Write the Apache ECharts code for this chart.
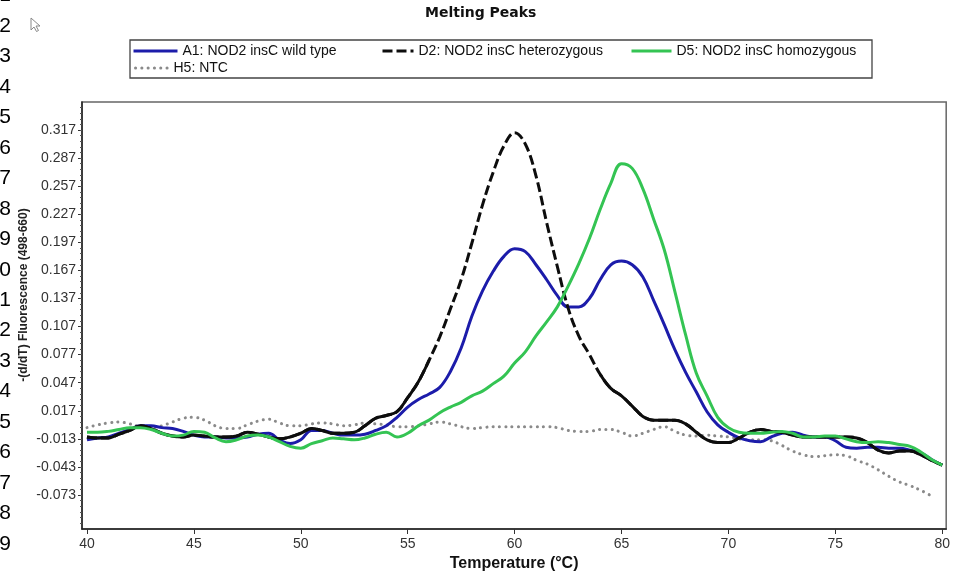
<!DOCTYPE html>
<html><head><meta charset="utf-8">
<script src="https://cdn.jsdelivr.net/npm/echarts@6/dist/echarts.min.js"></script>
<style>html,body{margin:0;padding:0;background:#fff}#c{width:953px;height:577px}</style>
</head><body><div id="c"></div>
<script>
// ---------- data ----------
const temperatures = [40,40.5,41,41.5,42,42.5,43,43.5,44,44.5,45,45.5,46,46.5,47,47.5,48,48.5,49,49.5,
  50,50.5,51,51.5,52,52.5,53,53.5,54,54.5,55,55.5,56,56.5,57,57.5,58,58.5,59,59.5,
  60,60.5,61,61.5,62,62.5,63,63.5,64,64.5,65,65.5,66,66.5,67,67.5,68,68.5,69,69.5,
  70,70.5,71,71.5,72,72.5,73,73.5,74,74.5,75,75.5,76,76.5,77,77.5,78,78.5,79,79.5,80];

const a1WildType = [-0.014,-0.012,-0.011,-0.007,-0.003,0.001,0.001,-0.001,-0.002,-0.005,
  -0.009,-0.011,-0.011,-0.012,-0.012,-0.011,-0.008,-0.007,-0.014,-0.018,
  -0.014,-0.004,-0.004,-0.007,-0.009,-0.009,-0.008,-0.004,0.001,0.010,
  0.021,0.029,0.035,0.042,0.059,0.084,0.118,0.145,0.166,0.182,
  0.190,0.187,0.173,0.157,0.140,0.128,0.128,0.137,0.157,0.173,
  0.177,0.173,0.160,0.135,0.109,0.082,0.058,0.037,0.016,0.002,
  -0.006,-0.012,-0.015,-0.016,-0.011,-0.007,-0.006,-0.009,-0.011,-0.011,
  -0.015,-0.022,-0.023,-0.022,-0.022,-0.023,-0.023,-0.025,-0.028,-0.035,-0.041];

const d2Heterozygous = [-0.011,-0.012,-0.012,-0.008,-0.004,0.001,-0.002,-0.007,-0.010,-0.011,
  -0.009,-0.010,-0.011,-0.011,-0.010,-0.006,-0.008,-0.011,-0.013,-0.011,
  -0.007,-0.002,-0.004,-0.007,-0.007,-0.006,0.001,0.009,0.012,0.016,
  0.031,0.048,0.071,0.096,0.126,0.157,0.196,0.237,0.272,0.300,
  0.314,0.302,0.268,0.218,0.171,0.127,0.097,0.077,0.056,0.041,
  0.033,0.022,0.011,0.007,0.007,0.007,0.003,-0.006,-0.014,-0.017,
  -0.017,-0.012,-0.006,-0.003,-0.005,-0.006,-0.009,-0.011,-0.011,-0.011,
  -0.011,-0.011,-0.012,-0.017,-0.025,-0.028,-0.026,-0.026,-0.030,-0.036,-0.041];

const d5Homozygous = [-0.006,-0.006,-0.005,-0.003,-0.001,-0.001,-0.003,-0.007,-0.010,-0.009,
  -0.005,-0.006,-0.012,-0.016,-0.014,-0.010,-0.009,-0.011,-0.016,-0.021,
  -0.023,-0.018,-0.015,-0.012,-0.013,-0.014,-0.012,-0.008,-0.006,-0.011,
  -0.007,0.001,0.007,0.015,0.021,0.026,0.033,0.038,0.046,0.054,
  0.068,0.080,0.097,0.112,0.128,0.150,0.174,0.201,0.232,0.260,
  0.281,0.276,0.254,0.222,0.189,0.144,0.098,0.057,0.033,0.010,
  -0.001,-0.006,-0.007,-0.007,-0.006,-0.005,-0.007,-0.011,-0.011,-0.010,
  -0.010,-0.013,-0.016,-0.017,-0.016,-0.017,-0.019,-0.021,-0.027,-0.035,-0.041];

const h5NTC = [-0.001,0.002,0.004,0.005,0.003,0.000,-0.001,0.001,0.005,0.009,
  0.010,0.007,0.001,-0.002,-0.002,0.002,0.006,0.008,0.004,0.001,
  0.001,0.003,0.004,0.003,0.001,0.002,0.004,0.003,0.002,0.000,
  0.000,0.001,0.003,0.005,0.003,0.000,-0.002,-0.001,0.000,0.000,
  0.000,0.000,0.000,0.000,-0.001,-0.004,-0.005,-0.005,-0.003,-0.003,
  -0.006,-0.010,-0.007,-0.003,0.000,-0.005,-0.009,-0.010,-0.009,-0.010,
  -0.011,-0.013,-0.014,-0.014,-0.015,-0.020,-0.026,-0.030,-0.032,-0.031,
  -0.030,-0.031,-0.036,-0.040,-0.046,-0.053,-0.059,-0.063,-0.068,-0.074,null];

const seriesNames = ['A1: NOD2 insC wild type','D2: NOD2 insC heterozygous','D5: NOD2 insC homozygous','H5: NTC'];
const xTickValues = [40,45,50,55,60,65,70,75,80];
const yTickValues = [-0.073,-0.043,-0.013,0.017,0.047,0.077,0.107,0.137,0.167,0.197,0.227,0.257,0.287,0.317];
const lineNumbers = [1,2,3,4,5,6,7,8,9,10,11,12,13,14,15,16,17,18,19];

// ---------- build ----------
const pairs = arr => temperatures.map((t,i) => [t, arr[i]]);
// D2 trace looks solid in flat regions in the original (dense noisy segments)
const d2Flat = temperatures.map((t,i) => [t, (t <= 56 || t >= 64) ? d2Heterozygous[i] : null]);

const yMinor = [];
for (let k = -6; k <= 70; k++) {
  const v = +(0.317 - 0.006 * k).toFixed(4);
  if (v > -0.109 && v < 0.347) yMinor.push(v);
}

const FONT = '"Liberation Sans", Arial, sans-serif';
const legendCommon = { orient:'horizontal', padding:0, itemHeight:14, selectedMode:false,
  itemStyle:{ opacity:0 }, lineStyle:{ width:3 },
  textStyle:{ fontFamily:FONT, fontSize:14, color:'#111' } };

const chart = echarts.init(document.getElementById('c'), null, {renderer:'canvas'});
chart.setOption({
  animation:false,
  backgroundColor:'#fff',
  title:{ text:'Melting Peaks', left:425, top:6, padding:0,
    textStyle:{ fontFamily:'"DejaVu Sans", sans-serif', fontWeight:'bold', fontSize:14, color:'#111' } },
  legend:[
    Object.assign({ data:[seriesNames[0]], left:132, top:44, itemWidth:44 }, legendCommon),
    Object.assign({ data:[seriesNames[1]], left:381, top:44, itemWidth:31 }, legendCommon),
    Object.assign({ data:[seriesNames[2]], left:630, top:44, itemWidth:40 }, legendCommon),
    Object.assign({ data:[seriesNames[3]], left:134, top:61, itemWidth:33 }, legendCommon)
  ],
  grid:{ left:82, right:2, top:102, bottom:48, show:true, borderColor:'#666', borderWidth:1.5, containLabel:false },
  xAxis:{ type:'value', min:39.767, max:80.186,
    name:'Temperature (°C)', nameLocation:'middle', nameGap:26,
    nameTextStyle:{ fontFamily:FONT, fontWeight:'bold', fontSize:16, color:'#111' },
    axisLine:{ show:true, onZero:false, lineStyle:{ color:'#222', width:1.5 } },
    axisTick:{ show:true, customValues:xTickValues, length:5, lineStyle:{ color:'#333' } },
    axisLabel:{ customValues:xTickValues, margin:8, fontFamily:FONT, fontSize:14, color:'#333' },
    splitLine:{ show:false } },
  yAxis:[
    { type:'value', min:-0.1093, max:0.3469, position:'left',
      axisLine:{ show:true, onZero:false, lineStyle:{ color:'#222', width:1.5 } },
      axisTick:{ show:true, customValues:yTickValues, length:4, lineStyle:{ color:'#333' } },
      axisLabel:{ customValues:yTickValues, margin:6, fontFamily:FONT, fontSize:14, color:'#333',
        formatter: v => v.toFixed(3) },
      splitLine:{ show:false } },
    { type:'value', min:-0.1093, max:0.3469, position:'left',
      axisLine:{ show:false, onZero:false }, axisLabel:{ show:false }, splitLine:{ show:false },
      axisTick:{ show:true, customValues:yMinor, length:2, lineStyle:{ color:'#555' } } }
  ],
  series:[
    { name:seriesNames[3], type:'line', data:pairs(h5NTC), symbol:'none', smooth:0.4,
      lineStyle:{ color:'#8a8a8a', width:3, type:[0.1,6.2], cap:'round' }, itemStyle:{ color:'#8a8a8a' } },
    { name:seriesNames[0], type:'line', data:pairs(a1WildType), symbol:'none', smooth:0.4,
      lineStyle:{ color:'#1c1caa', width:3 }, itemStyle:{ color:'#1c1caa' } },
    { name:seriesNames[1], type:'line', data:pairs(d2Heterozygous), symbol:'none', smooth:0.4,
      lineStyle:{ color:'#0d0d0d', width:3, type:[10,4] }, itemStyle:{ color:'#0d0d0d' } },
    { name:'D2 flat', type:'line', data:d2Flat, symbol:'none', smooth:0.4, connectNulls:false,
      lineStyle:{ color:'#0d0d0d', width:3 }, itemStyle:{ color:'#0d0d0d' } },
    { name:seriesNames[2], type:'line', data:pairs(d5Homozygous), symbol:'none', smooth:0.4,
      lineStyle:{ color:'#34c453', width:3 }, itemStyle:{ color:'#34c453' } }
  ],
  graphic:[
    { type:'rect', shape:{ x:130, y:40, width:742, height:38 }, style:{ fill:'none', stroke:'#444', lineWidth:1.3 }, silent:true },
    { type:'text', x:24, y:295, rotation:Math.PI/2,
      style:{ text:'-(d/dT) Fluorescence (498-660)', textAlign:'center', textVerticalAlign:'middle',
        font:'bold 12px "Liberation Sans", Arial, sans-serif', fill:'#222' } },
    { type:'polygon', shape:{ points:[[31,18],[31,30],[34,27],[36.5,31.5],[38.5,30.5],[36,26],[40,26]] },
      style:{ fill:'#fff', stroke:'#888', lineWidth:1 } }
  ].concat(lineNumbers.map(n => ({ type:'text', x:11, y:26 + 30.47 * (n - 2),
      style:{ text:String(n), textAlign:'right', textVerticalAlign:'middle',
        font:'21px "Liberation Sans", Arial, sans-serif', fill:'#000' } })))
});
</script></body></html>
